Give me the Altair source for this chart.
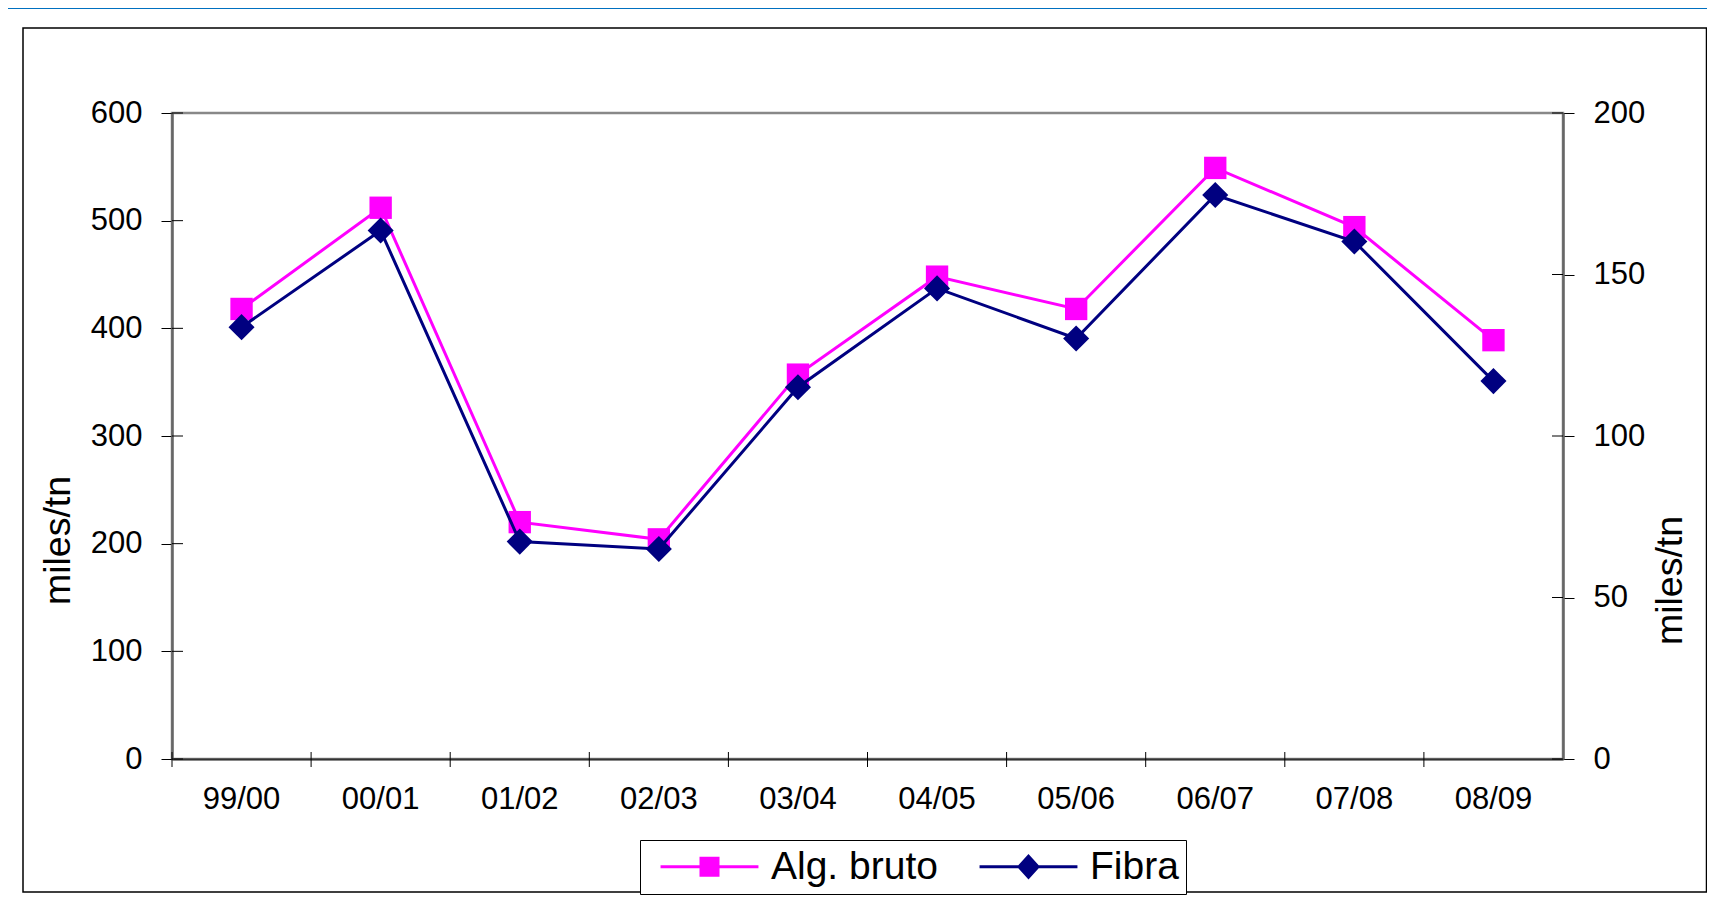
import altair as alt
import pandas as pd

# ---- data ----
cats = ["99/00", "00/01", "01/02", "02/03", "03/04", "04/05", "05/06", "06/07", "07/08", "08/09"]
alg = [418, 512, 220, 204, 357, 448, 418, 549, 494, 389]          # left axis
fibra = [133.7, 163.6, 67.3, 65.0, 115.1, 145.7, 130.2, 174.6, 160.2, 117.0]  # right axis
series = ["Alg. bruto", "Fibra"]
colors = ["#FF00FF", "#000080"]
left_ticks = [0, 100, 200, 300, 400, 500, 600]
right_ticks = [0, 50, 100, 150, 200]

W, H = 1391, 646
FONT = "Liberation Sans"

df = pd.DataFrame({"cat": cats, "alg": alg, "fibra": fibra})
base = alt.Chart(df)

xenc = alt.X(
    "cat:N", sort=cats,
    scale=alt.Scale(type="band", paddingInner=0, paddingOuter=0),
    axis=alt.Axis(title=None, labelAngle=0, tickSize=8, tickOpacity=0,
                  domainColor="#333333", domainWidth=2, labelFont=FONT, labelAlign="center",
                  labelFontSize=31, labelColor="black", labelPadding=32, grid=False),
)
xplain = alt.X("cat:N", sort=cats)

yleft_axis = alt.Axis(title="miles/tn", titleFont=FONT, titleFontSize=37.5, titleFontWeight="normal",
                      titleColor="black", titleAngle=270, titleX=-114, titleY=427,
                      titleAlign="center", titleBaseline="middle", values=left_ticks,
                      tickSize=11, tickColor="black", tickWidth=1, domainColor="#666666",
                      domainWidth=2.5, labelFont=FONT, labelFontSize=31, labelColor="black",
                      labelPadding=19, grid=False)
yright_axis = alt.Axis(orient="right", title="miles/tn", titleFont=FONT, titleFontSize=37.5,
                       titleFontWeight="normal", titleColor="black", titleAngle=270,
                       titleX=107, titleY=467, titleAlign="center", titleBaseline="middle",
                       values=right_ticks, tickSize=11, tickColor="black", tickWidth=1,
                       domainColor="#666666", domainWidth=2.5, labelFont=FONT, labelFontSize=31,
                       labelColor="black", labelPadding=19, grid=False)

# legend symbols: line + marker (custom paths, 11 px per unit at symbolSize 484)
sq_path = "M-4.45,-0.14H4.45V0.14H-4.45Z M-0.91,-0.91H0.91V0.91H-0.91Z"
di_path = "M-4.45,-0.14H4.45V0.14H-4.45Z M0,-1.15L1.05,0L0,1.15L-1.05,0Z"
leg = alt.Legend(title=None, orient="none", legendX=468, legendY=727, direction="horizontal",
                 symbolSize=484, symbolOffset=43, labelOffset=42, labelFont=FONT,
                 labelFontSize=39, labelColor="black", labelLimit=400, strokeColor="black",
                 fillColor="white", padding=7, columnPadding=28, symbolStrokeWidth=0)

one = alt.Data(values=[{"k": 1}])
frame = alt.Chart(one).mark_rect(filled=False, stroke="black", strokeWidth=1.5).encode(
    x=alt.value(-149), x2=alt.value(1534.5), y=alt.value(-85), y2=alt.value(779))
topband = alt.Chart(one).mark_rect(fill="#0070C0").encode(
    x=alt.value(-164), x2=alt.value(1535), y=alt.value(-105), y2=alt.value(-104))

# x ticks at category boundaries, crossing the axis
xin = alt.Chart(pd.DataFrame({"cat": cats})).mark_rule(color="black", strokeWidth=1).encode(
    x=alt.X("cat:N", sort=cats, bandPosition=0), y=alt.value(H - 7), y2=alt.value(H + 8))

pink_line = base.mark_line(color=colors[0], strokeWidth=3).encode(
    x=xenc, y=alt.Y("alg:Q", scale=alt.Scale(domain=[0, 600], nice=False), axis=yleft_axis))
pink_pts = base.mark_point(shape="square", filled=True, size=500, color=colors[0], opacity=1).encode(
    x=xplain, y=alt.Y("alg:Q"))
lt = alt.Chart(pd.DataFrame({"alg": left_ticks})).mark_rule(color="black", strokeWidth=1).encode(
    y=alt.Y("alg:Q"), x=alt.value(0), x2=alt.value(11))
legend_layer = alt.Chart(pd.DataFrame({"serie": series})).transform_filter("false").mark_point(
    filled=True, opacity=1).encode(
    color=alt.Color("serie:N", scale=alt.Scale(domain=series, range=colors), legend=leg),
    shape=alt.Shape("serie:N", scale=alt.Scale(domain=series, range=[sq_path, di_path]), legend=leg),
)

left = alt.layer(frame, topband, xin, pink_line, pink_pts, lt, legend_layer)

navy_line = base.mark_line(color=colors[1], strokeWidth=3).encode(
    x=xplain, y=alt.Y("fibra:Q", scale=alt.Scale(domain=[0, 200], nice=False), axis=yright_axis))
navy_pts = base.mark_point(shape="diamond", filled=True, size=680, color=colors[1], opacity=1).encode(
    x=xplain, y=alt.Y("fibra:Q"))
rt = alt.Chart(pd.DataFrame({"fibra": right_ticks})).mark_rule(color="black", strokeWidth=1).encode(
    y=alt.Y("fibra:Q"), x=alt.value(W - 11), x2=alt.value(W))

right = alt.layer(navy_line, navy_pts, rt)

chart = alt.layer(left, right).resolve_scale(y="independent").properties(
    width=W, height=H,
    padding={"left": 164, "top": 105, "right": 144, "bottom": 136},
    autosize=alt.AutoSizeParams(type="none"),
    background="white",
).configure_view(stroke="#888888", strokeWidth=2.5)

chart.save("out.html", embed_options={"renderer": "svg", "actions": False})
